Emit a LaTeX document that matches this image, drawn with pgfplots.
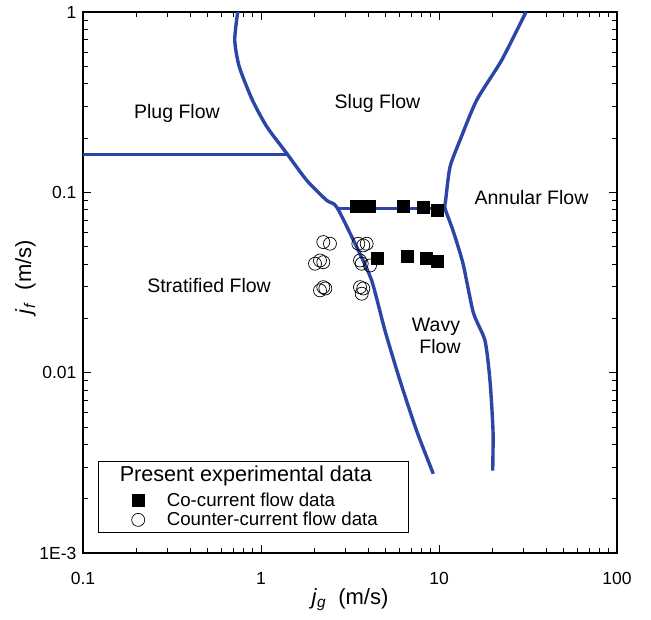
\documentclass[border=0pt]{standalone}
\usepackage{pgfplots}
\pgfplotsset{compat=1.18}
\usepackage{fontspec}
\setmainfont{Liberation Sans}
\definecolor{bnd}{RGB}{44,70,168}
\begin{document}
\begin{tikzpicture}
\begin{axis}[
  name=ax,
  scale only axis,
  width=534pt, height=541pt,
  xmode=log, ymode=log,
  xmin=0.1, xmax=100, ymin=0.001, ymax=1,
  axis line style={line width=1.3pt},
  tick style={black, line width=0.9pt},
  major tick length=8pt, minor tick length=5pt,
  tick align=inside,
  xtick={0.1,1,10,100}, xticklabels={0.1,1,10,100},
  ytick={0.001,0.01,0.1,1}, yticklabels={1E-3,0.01,0.1,1},
  ticklabel style={font=\fontsize{17.5}{20}\selectfont},
  yticklabel style={xshift=-3pt},
  xticklabel style={yshift=-16pt},
  xlabel={\textit{j}\textsubscript{\textit{g}}~~(m/s)},
  ylabel={\textit{j}\textsubscript{\textit{f}}~~(m/s)},
  label style={font=\fontsize{22}{25}\selectfont},
  xlabel style={at={(axis description cs:0.5,-0.086)}, anchor=center},
  ylabel style={at={(axis description cs:-0.108,0.51)}, anchor=center},
  legend cell align=left,
  legend style={at={(0.0281,0.037)}, anchor=south west, draw=black, line width=1.2pt,
    font=\fontsize{18.7}{21}\selectfont, row sep=0pt, inner xsep=4pt, inner ysep=3pt},
  legend image code/.code={\path (0pt,0pt) (61pt,0pt); \draw[#1, line width=0.7pt] plot coordinates {(35pt,0pt)};},
]
% boundaries
\addplot[bnd, line width=3.4pt, smooth, tension=0.4, forget plot] coordinates {
(0.74,1) (0.712,0.699) (0.755,0.497) (0.895,0.3245) (1.08,0.2306) (1.394,0.1646)
(1.806,0.1166) (2.339,0.0903) (2.663,0.0829) (3.449,0.0497) (4.187,0.0324)
(4.973,0.0171) (6.04,0.00903) (7.49,0.00476) (9.29,0.00275)};
\addplot[bnd, line width=3.4pt, forget plot] coordinates {(0.1,0.162) (1.40,0.162)};
\addplot[bnd, line width=3.4pt, forget plot] coordinates {(2.65,0.0812) (10.81,0.0812)};
\addplot[bnd, line width=3.4pt, smooth, tension=0.4, forget plot] coordinates {
(30.8,1) (22.5,0.541) (16.28,0.3245) (13.12,0.1945) (11.53,0.1382) (10.9,0.0903)
(10.81,0.0815) (11.98,0.0615) (13.64,0.0403) (15.6,0.0215) (18.13,0.01506)
(19.34,0.00903) (20.11,0.00476) (20.03,0.00286)};
% legend title
\addlegendimage{empty legend}
\addlegendentry{\hspace{-47pt}\fontsize{21.6}{23}\selectfont\raisebox{6pt}{Present experimental data}}
% co-current
\addplot[only marks, mark=square*, mark size=6pt, black] coordinates {
(3.42,0.0836) (4.04,0.0836) (6.28,0.0836) (8.13,0.0830) (9.74,0.0801)
(4.48,0.0432) (6.61,0.0440) (8.45,0.0430) (9.74,0.0414)};
\addlegendentry{Co-current flow data}
% counter-current
\addplot[only marks, mark=o, mark size=6.5pt, black, mark options={line width=0.7pt}] coordinates {
(2.239,0.0530) (2.44,0.0519) (2.011,0.0402) (2.145,0.0419) (2.239,0.0410)
(2.239,0.0298) (2.145,0.0286) (2.30,0.0293)
(3.522,0.0519) (3.755,0.0508) (3.925,0.0519) (3.60,0.0419) (3.68,0.0402)
(4.096,0.0393) (3.60,0.0298) (3.68,0.0274) (3.755,0.0293)};
\addlegendentry{\makebox[236pt][l]{Counter-current flow data}}
% region labels
\node[font=\fontsize{19.5}{22}\selectfont] at (axis cs:0.337,0.2748) {Plug Flow};
\node[font=\fontsize{19.5}{22}\selectfont] at (axis cs:4.515,0.3122) {Slug Flow};
\node[font=\fontsize{19.5}{22}\selectfont] at (axis cs:33.1,0.0938) {Annular Flow};
\node[font=\fontsize{19.5}{22}\selectfont] at (axis cs:0.5107,0.0304) {Stratified Flow};
\node[font=\fontsize{19.5}{22}\selectfont, align=center] at (axis cs:10.13,0.01606) {\hspace{-8pt}Wavy\\Flow};
\end{axis}
% fix bounding box to the reference's margins
\path ([xshift=-83pt,yshift=-66pt]ax.south west) rectangle ([xshift=34pt,yshift=12pt]ax.north east);
\end{tikzpicture}
\end{document}
